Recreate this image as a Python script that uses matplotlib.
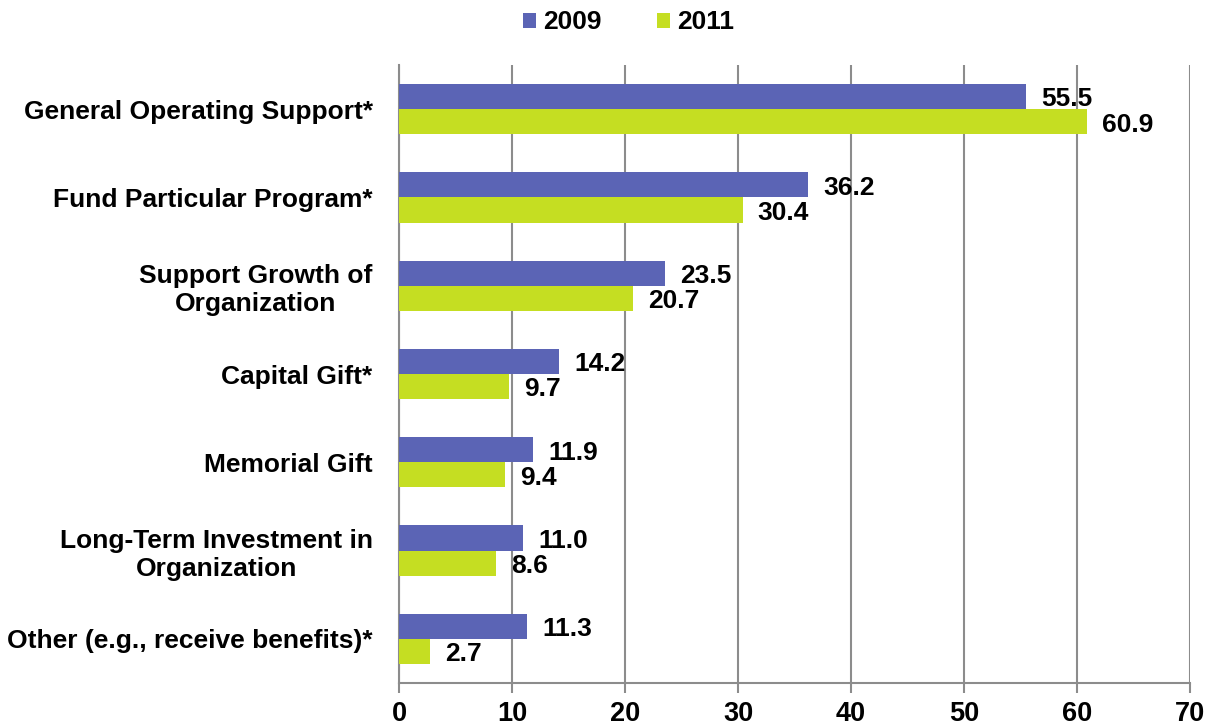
import matplotlib
matplotlib.use("Agg")
import matplotlib.pyplot as plt
import numpy as np

categories = ["General Operating Support*", "Fund Particular Program*",
              "Support Growth of\nOrganization", "Capital Gift*", "Memorial Gift",
              "Long-Term Investment in\nOrganization", "Other (e.g., receive benefits)*"]
values_2009 = [55.5, 36.2, 23.5, 14.2, 11.9, 11.0, 11.3]
values_2011 = [60.9, 30.4, 20.7, 9.7, 9.4, 8.6, 2.7]
series_names = ["2009", "2011"]
xticks = [0, 10, 20, 30, 40, 50, 60, 70]

plt.rcParams['font.family'] = ['Liberation Sans', 'DejaVu Sans']
plt.rcParams['font.weight'] = 'bold'

fig = plt.figure(figsize=(12.11, 7.25), dpi=100)
ax = fig.add_axes([0.3295, 0.0579, 0.6532, 0.8524])

n = len(categories)
y = np.arange(n)
h = 0.285
c1 = "#5B64B5"
c2 = "#C5DE22"
b1 = ax.barh(y - h / 2, values_2009, height=h, color=c1, label=series_names[0], zorder=3)
b2 = ax.barh(y + h / 2, values_2011, height=h, color=c2, label=series_names[1], zorder=3)

for bars, vals in ((b1, values_2009), (b2, values_2011)):
    for rect, v in zip(bars, vals):
        ax.annotate(f"{v:.1f}", (v, rect.get_y() + rect.get_height() / 2),
                    xytext=(11, -2), textcoords="offset points", va="center", ha="left",
                    fontsize=19, fontweight="bold", zorder=5)

ax.set_ylim(n - 0.5, -0.5)
ax.set_xlim(0, 70)
ax.set_xticks(xticks)
ax.set_xticklabels([str(t) for t in xticks], fontsize=19.5, fontweight="bold")
ax.set_yticks(y)
ax.set_yticklabels(categories, fontsize=19, fontweight="bold", multialignment="center")
ax.tick_params(axis="y", length=0, pad=19)
ax.tick_params(axis="x", length=7, width=1.5, color="#8C8C8C", pad=6)

ax.grid(axis="x", color="#8C8C8C", linewidth=1.5, zorder=0)
for s in ["top", "right"]:
    ax.spines[s].set_visible(False)
for s in ["left", "bottom"]:
    ax.spines[s].set_color("#8C8C8C")
    ax.spines[s].set_linewidth(1.5)

leg = fig.legend(handles=[b1, b2], labels=series_names, loc="center", bbox_to_anchor=(0.519, 0.969),
                 ncol=2, frameon=False, fontsize=19, handlelength=0.5, handleheight=0.5,
                 handletextpad=0.25, columnspacing=2.1)
for t in leg.get_texts():
    t.set_fontweight("bold")

fig.savefig("out.png", dpi=100)
